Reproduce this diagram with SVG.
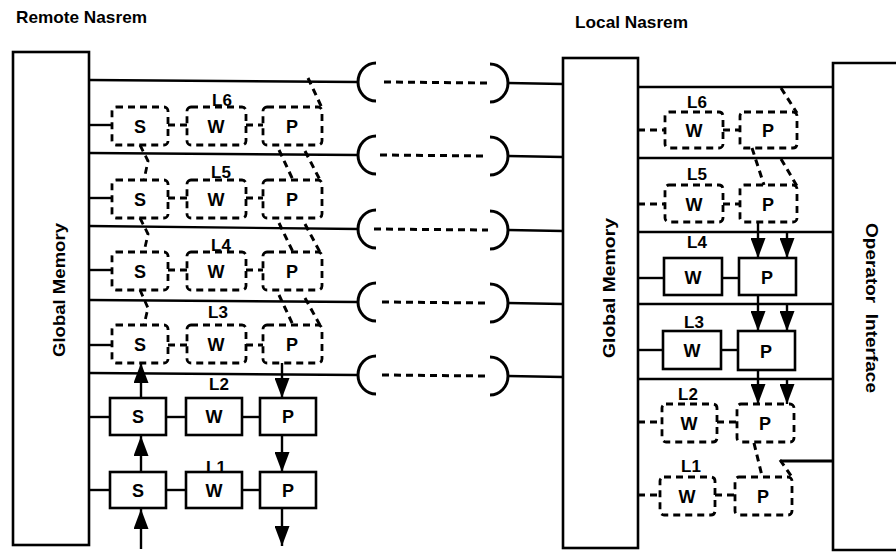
<svg xmlns="http://www.w3.org/2000/svg" width="896" height="554" viewBox="0 0 896 554">
<style>
.bg{fill:#fff}
.box{fill:#fff;stroke:#000;stroke-width:2.6}
.dbox{fill:none;stroke:#000;stroke-width:2.8;stroke-dasharray:7 5}
.ln{fill:none;stroke:#000;stroke-width:2.4}
.dln{fill:none;stroke:#000;stroke-width:2.8;stroke-dasharray:7 5}
.arr{fill:none;stroke:#000;stroke-width:2.4;marker-end:url(#ah)}
.t{font-family:"Liberation Sans",Arial,Helvetica,sans-serif;font-weight:bold;font-size:17px;fill:#000;text-anchor:middle}
.n{font-family:"Liberation Sans",Arial,Helvetica,sans-serif;font-weight:bold;font-size:18px;fill:#000;text-anchor:middle}
.ttl{font-family:"Liberation Sans",Arial,Helvetica,sans-serif;font-weight:bold;font-size:17px;fill:#000}
.big{font-family:"Liberation Sans",Arial,Helvetica,sans-serif;font-weight:bold;font-size:17px;fill:#000;text-anchor:middle}
</style>
<defs>
<marker id="ah" viewBox="0 0 20 15" refX="20" refY="7.5" markerWidth="20" markerHeight="15" markerUnits="userSpaceOnUse" orient="auto">
<path d="M0,0 L20,7.5 L0,15 Z" fill="#000"/>
</marker>
</defs>
<rect class="bg" x="0" y="0" width="896" height="554"/>

<text class="ttl" x="16" y="23" textLength="131" lengthAdjust="spacingAndGlyphs">Remote Nasrem</text>
<text class="ttl" x="575" y="28" textLength="113" lengthAdjust="spacingAndGlyphs">Local Nasrem</text>

<g id="connectors">
  <!-- left bus lines -->
  <line class="ln" x1="89" y1="80" x2="358" y2="82"/>
  <line class="ln" x1="89" y1="153" x2="358" y2="155"/>
  <line class="ln" x1="89" y1="226" x2="358" y2="229"/>
  <line class="ln" x1="89" y1="300" x2="358" y2="302"/>
  <line class="ln" x1="89" y1="373" x2="358" y2="375"/>
  <!-- link brackets -->
  <g id="links">
    <path class="ln" d="M376,63 A18,19 0 0 0 376,101" style="stroke-width:3"/>
    <line class="dln" x1="384" y1="82" x2="488" y2="83" style="stroke-width:3"/>
    <path class="ln" d="M490,64 A18,19 0 0 1 490,102" style="stroke-width:3"/>
    <path class="ln" d="M376,136 A18,19 0 0 0 376,174" style="stroke-width:3"/>
    <line class="dln" x1="380" y1="155" x2="488" y2="156" style="stroke-width:3"/>
    <path class="ln" d="M490,137 A18,19 0 0 1 490,175" style="stroke-width:3"/>
    <path class="ln" d="M376,210 A18,19 0 0 0 376,248" style="stroke-width:3"/>
    <line class="dln" x1="374" y1="229" x2="488" y2="230" style="stroke-width:3"/>
    <path class="ln" d="M490,211 A18,19 0 0 1 490,249" style="stroke-width:3"/>
    <path class="ln" d="M376,283 A18,19 0 0 0 376,321" style="stroke-width:3"/>
    <line class="dln" x1="382" y1="302" x2="488" y2="303" style="stroke-width:3"/>
    <path class="ln" d="M490,284 A18,19 0 0 1 490,322" style="stroke-width:3"/>
    <path class="ln" d="M376,356 A18,19 0 0 0 376,394" style="stroke-width:3"/>
    <line class="dln" x1="382" y1="375" x2="488" y2="376" style="stroke-width:3"/>
    <path class="ln" d="M490,357 A18,19 0 0 1 490,395" style="stroke-width:3"/>
  </g>
  <!-- lines to local global memory -->
  <line class="ln" x1="508" y1="83" x2="563" y2="84"/>
  <line class="ln" x1="508" y1="156" x2="563" y2="157"/>
  <line class="ln" x1="508" y1="230" x2="563" y2="231"/>
  <line class="ln" x1="508" y1="303" x2="563" y2="304"/>
  <line class="ln" x1="508" y1="376" x2="563" y2="377"/>
  <!-- local bus lines to operator interface -->
  <line class="ln" x1="638" y1="87" x2="833" y2="87"/>
  <line class="ln" x1="638" y1="158" x2="833" y2="158"/>
  <line class="ln" x1="638" y1="232" x2="833" y2="232"/>
  <line class="ln" x1="638" y1="304" x2="833" y2="304"/>
  <line class="ln" x1="638" y1="379" x2="833" y2="379"/>

  <!-- left stubs -->
  <line class="ln" x1="89" y1="125" x2="112" y2="125"/>
  <line class="ln" x1="89" y1="198" x2="112" y2="198"/>
  <line class="ln" x1="89" y1="270" x2="112" y2="270"/>
  <line class="ln" x1="89" y1="345" x2="112" y2="345"/>
  <line class="ln" x1="89" y1="417" x2="110" y2="417"/>
  <line class="ln" x1="89" y1="490" x2="110" y2="490"/>
  <!-- left S-W-P links -->
  <line class="dln" x1="168" y1="125" x2="187" y2="125"/>
  <line class="dln" x1="246" y1="125" x2="263" y2="125"/>
  <line class="dln" x1="168" y1="198" x2="187" y2="198"/>
  <line class="dln" x1="246" y1="198" x2="263" y2="198"/>
  <line class="dln" x1="168" y1="270" x2="187" y2="270"/>
  <line class="dln" x1="246" y1="270" x2="263" y2="270"/>
  <line class="dln" x1="168" y1="345" x2="187" y2="345"/>
  <line class="dln" x1="246" y1="345" x2="263" y2="345"/>
  <line class="ln" x1="166" y1="417" x2="186" y2="417"/>
  <line class="ln" x1="242" y1="417" x2="260" y2="417"/>
  <line class="ln" x1="166" y1="490" x2="186" y2="490"/>
  <line class="ln" x1="242" y1="490" x2="260" y2="490"/>

  <!-- left dashed flows -->
  <polyline class="dln" points="140,145 148,161 144,180"/>
  <polyline class="dln" points="140,218 148,234 144,252"/>
  <polyline class="dln" points="140,290 148,308 144,325"/>
  <line class="dln" x1="308" y1="78" x2="322" y2="108" style="stroke-width:3"/>
  <line class="dln" x1="279" y1="150" x2="293" y2="180" style="stroke-width:3"/>
  <line class="dln" x1="305" y1="151" x2="321" y2="182" style="stroke-width:3"/>
  <line class="dln" x1="279" y1="223" x2="293" y2="252" style="stroke-width:3"/>
  <line class="dln" x1="305" y1="224" x2="321" y2="254" style="stroke-width:3"/>
  <line class="dln" x1="279" y1="295" x2="293" y2="325" style="stroke-width:3"/>
  <line class="dln" x1="305" y1="298" x2="321" y2="327" style="stroke-width:3"/>

  <!-- left arrows -->
  <line class="arr" x1="141" y1="549" x2="141" y2="509"/>
  <line class="arr" x1="141" y1="472" x2="141" y2="436"/>
  <line class="arr" x1="141" y1="398" x2="141" y2="363"/>
  <line class="arr" x1="282" y1="363" x2="282" y2="398"/>
  <line class="arr" x1="282" y1="435" x2="282" y2="472"/>
  <line class="arr" x1="282" y1="508" x2="282" y2="546"/>

  <!-- right stubs -->
  <line class="dln" x1="638" y1="130" x2="665" y2="130"/>
  <line class="dln" x1="638" y1="204" x2="665" y2="204"/>
  <line class="ln" x1="638" y1="278" x2="664" y2="278"/>
  <line class="ln" x1="638" y1="350" x2="663" y2="350"/>
  <line class="dln" x1="638" y1="422" x2="662" y2="422"/>
  <line class="dln" x1="638" y1="495" x2="660" y2="495"/>
  <!-- right W-P links -->
  <line class="dln" x1="723" y1="130" x2="740" y2="130"/>
  <line class="dln" x1="723" y1="204" x2="740" y2="204"/>
  <line class="ln" x1="722" y1="278" x2="739" y2="278"/>
  <line class="ln" x1="721" y1="350" x2="738" y2="350"/>
  <line class="dln" x1="717" y1="422" x2="737" y2="422"/>
  <line class="dln" x1="715" y1="495" x2="735" y2="495"/>

  <!-- right dashed flows -->
  <line class="dln" x1="781" y1="88" x2="797" y2="113" style="stroke-width:3"/>
  <line class="dln" x1="752" y1="148" x2="764" y2="185" style="stroke-width:3"/>
  <line class="dln" x1="781" y1="159" x2="797" y2="186" style="stroke-width:3"/>
  <line class="dln" x1="754" y1="443" x2="762" y2="476" style="stroke-width:3"/>
  <line class="ln" x1="833" y1="461" x2="780" y2="461" style="stroke-width:3"/>
  <line class="dln" x1="780" y1="460" x2="792" y2="477" style="stroke-width:3"/>

  <!-- right arrows -->
  <line class="arr" x1="758" y1="222" x2="758" y2="258"/>
  <line class="arr" x1="787" y1="232" x2="787" y2="258"/>
  <line class="arr" x1="758" y1="295" x2="758" y2="331"/>
  <line class="arr" x1="787" y1="304" x2="787" y2="331"/>
  <line class="arr" x1="758" y1="370" x2="758" y2="404"/>
  <line class="arr" x1="787" y1="379" x2="787" y2="404"/>
</g>

<g id="remote-global-memory">
  <rect class="box" x="13" y="52" width="76" height="493"/>
  <text class="big" transform="translate(65,290) rotate(-90)" textLength="134" lengthAdjust="spacingAndGlyphs">Global Memory</text>
</g>
<g id="local-global-memory">
  <rect class="box" x="563" y="58" width="75" height="490"/>
  <text class="big" transform="translate(615,288) rotate(-90)" textLength="140" lengthAdjust="spacingAndGlyphs">Global Memory</text>
</g>
<g id="operator-interface">
  <path class="ln" d="M900,63 L833,63 L833,550 L900,550" style="stroke-width:2.6"/>
  <text class="big" xml:space="preserve" transform="translate(866,308) rotate(90)" textLength="170" lengthAdjust="spacingAndGlyphs">Operator  Interface</text>
</g>

<!-- Remote levels -->
<g id="remote-L6">
  <text class="t" x="222" y="106">L6</text>
  <g id="r-S6"><rect class="dbox" x="112" y="107" width="56" height="38" rx="4"/><text class="n" x="140" y="133">S</text></g>
  <g id="r-W6"><rect class="dbox" x="187" y="107" width="59" height="38" rx="4"/><text class="n" x="216" y="133">W</text></g>
  <g id="r-P6"><rect class="dbox" x="263" y="107" width="59" height="38" rx="4"/><text class="n" x="292" y="133">P</text></g>
</g>
<g id="remote-L5">
  <text class="t" x="221" y="178">L5</text>
  <g id="r-S5"><rect class="dbox" x="112" y="180" width="56" height="38" rx="4"/><text class="n" x="140" y="206">S</text></g>
  <g id="r-W5"><rect class="dbox" x="187" y="180" width="59" height="38" rx="4"/><text class="n" x="216" y="206">W</text></g>
  <g id="r-P5"><rect class="dbox" x="263" y="180" width="59" height="38" rx="4"/><text class="n" x="292" y="206">P</text></g>
</g>
<g id="remote-L4">
  <text class="t" x="221" y="251">L4</text>
  <g id="r-S4"><rect class="dbox" x="112" y="252" width="56" height="38" rx="4"/><text class="n" x="140" y="278">S</text></g>
  <g id="r-W4"><rect class="dbox" x="187" y="252" width="59" height="38" rx="4"/><text class="n" x="216" y="278">W</text></g>
  <g id="r-P4"><rect class="dbox" x="263" y="252" width="59" height="38" rx="4"/><text class="n" x="292" y="278">P</text></g>
</g>
<g id="remote-L3">
  <text class="t" x="218" y="318">L3</text>
  <g id="r-S3"><rect class="dbox" x="112" y="325" width="56" height="38" rx="4"/><text class="n" x="140" y="351">S</text></g>
  <g id="r-W3"><rect class="dbox" x="187" y="325" width="59" height="38" rx="4"/><text class="n" x="216" y="351">W</text></g>
  <g id="r-P3"><rect class="dbox" x="263" y="325" width="59" height="38" rx="4"/><text class="n" x="292" y="351">P</text></g>
</g>
<g id="remote-L2">
  <text class="t" x="219" y="390">L2</text>
  <g id="r-S2"><rect class="box" x="110" y="398" width="56" height="37"/><text class="n" x="138" y="423">S</text></g>
  <g id="r-W2"><rect class="box" x="186" y="398" width="56" height="37"/><text class="n" x="214" y="423">W</text></g>
  <g id="r-P2"><rect class="box" x="260" y="398" width="56" height="37"/><text class="n" x="288" y="423">P</text></g>
</g>
<g id="remote-L1">
  <g id="r-S1"><rect class="box" x="110" y="472" width="56" height="36"/><text class="n" x="138" y="497">S</text></g>
  <g id="r-W1"><rect class="box" x="186" y="472" width="56" height="36"/><text class="n" x="214" y="497">W</text></g>
  <g id="r-P1"><rect class="box" x="260" y="472" width="56" height="36"/><text class="n" x="288" y="497">P</text></g>
  <text class="t" x="216" y="473">L1</text>
</g>

<!-- Local levels -->
<g id="local-L6">
  <text class="t" x="697" y="108">L6</text>
  <g id="l-W6"><rect class="dbox" x="665" y="112" width="58" height="36" rx="4"/><text class="n" x="694" y="137">W</text></g>
  <g id="l-P6"><rect class="dbox" x="740" y="112" width="57" height="36" rx="4"/><text class="n" x="768" y="137">P</text></g>
</g>
<g id="local-L5">
  <text class="t" x="697" y="180">L5</text>
  <g id="l-W5"><rect class="dbox" x="665" y="185" width="58" height="37" rx="4"/><text class="n" x="694" y="211">W</text></g>
  <g id="l-P5"><rect class="dbox" x="740" y="185" width="57" height="37" rx="4"/><text class="n" x="768" y="211">P</text></g>
</g>
<g id="local-L4">
  <text class="t" x="697" y="248">L4</text>
  <g id="l-W4"><rect class="box" x="664" y="258" width="58" height="37"/><text class="n" x="693" y="284">W</text></g>
  <g id="l-P4"><rect class="box" x="739" y="258" width="57" height="37"/><text class="n" x="767" y="284">P</text></g>
</g>
<g id="local-L3">
  <text class="t" x="694" y="328">L3</text>
  <g id="l-W3"><rect class="box" x="663" y="331" width="58" height="38"/><text class="n" x="692" y="357">W</text></g>
  <g id="l-P3"><rect class="box" x="738" y="331" width="57" height="39"/><text class="n" x="766" y="358">P</text></g>
</g>
<g id="local-L2">
  <text class="t" x="688" y="400">L2</text>
  <g id="l-W2"><rect class="dbox" x="662" y="404" width="55" height="38" rx="4"/><text class="n" x="689" y="430">W</text></g>
  <g id="l-P2"><rect class="dbox" x="737" y="404" width="57" height="38" rx="4"/><text class="n" x="765" y="430">P</text></g>
</g>
<g id="local-L1">
  <text class="t" x="691" y="472">L1</text>
  <g id="l-W1"><rect class="dbox" x="660" y="477" width="55" height="38" rx="4"/><text class="n" x="687" y="503">W</text></g>
  <g id="l-P1"><rect class="dbox" x="735" y="477" width="57" height="38" rx="4"/><text class="n" x="763" y="503">P</text></g>
</g>
</svg>
